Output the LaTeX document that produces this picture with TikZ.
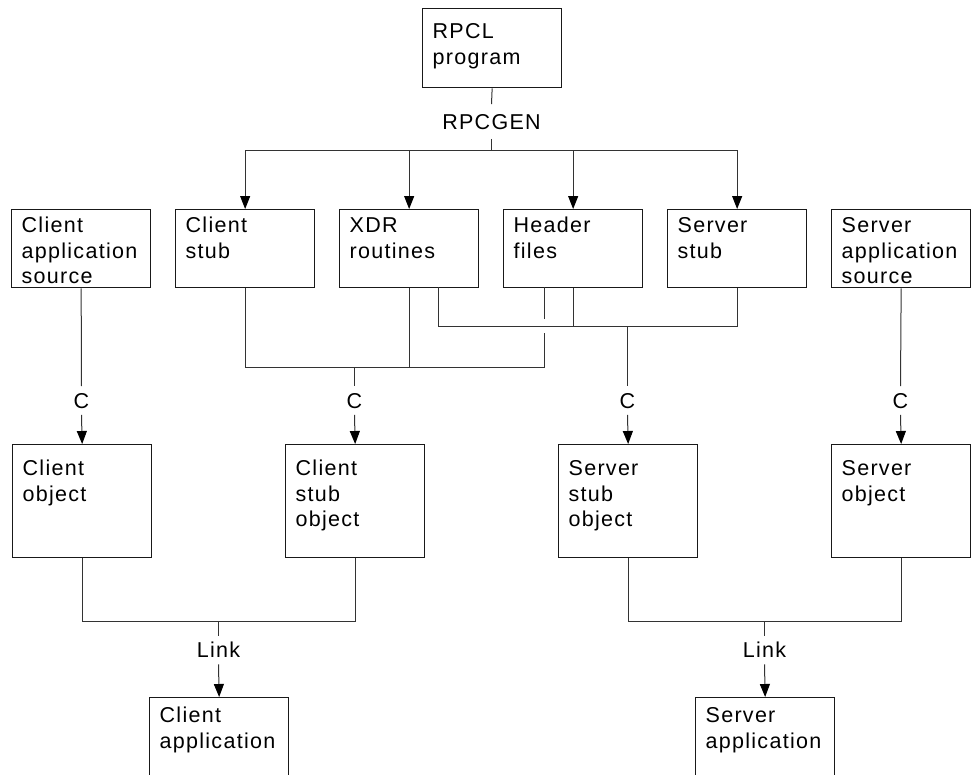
\documentclass[tikz,border=0pt]{standalone}
\usepackage{fontspec}
\setmainfont{Liberation Sans}[LetterSpace=6]
\usetikzlibrary{arrows.meta}
\begin{document}
\begin{tikzpicture}[x=1pt,y=-1pt,
  box/.style={draw=black!90, line width=1.3pt, anchor=north west, align=left,
    inner xsep=10pt, inner ysep=4pt, text width=119pt,
    font=\fontsize{21.5}{25.5}\selectfont},
  rA/.style={text height=26.3pt, text depth=44.7pt},
  rB/.style={text height=19.3pt, text depth=50.7pt},
  rC/.style={text height=27.3pt, text depth=77.7pt},
  rD/.style={text height=21.3pt, text depth=100pt},
  lbl/.style={font=\fontsize{21.5}{24}\selectfont, inner xsep=2pt, inner ysep=6.5pt,
    text height=15.4pt, text depth=0pt},
  conn/.style={draw=black!80, line width=1pt},
  arr/.style={conn, -{Triangle[length=13pt,width=10pt,fill=black,color=black]}}]
\useasboundingbox (0,0) rectangle (974,774);
\clip (0,0) rectangle (974,774);

% boxes
\node[box,rA] (rpcl) at (422,8) {RPCL\\program};
\node[box,rB] (csrc)  at (11,209)  {Client\\application\\source};
\node[box,rB] (cstub) at (175,209) {Client\\stub};
\node[box,rB] (xdr)   at (339,209) {XDR\\routines};
\node[box,rB] (hdr)   at (503,209) {Header\\files};
\node[box,rB] (sstub) at (667,209) {Server\\stub};
\node[box,rB] (ssrc)  at (831,209) {Server\\application\\source};
\node[box,rC] (cobj)     at (12,444)  {Client\\object};
\node[box,rC] (cstubobj) at (285,444) {Client\\stub\\object};
\node[box,rC] (sstubobj) at (558,444) {Server\\stub\\object};
\node[box,rC] (sobj)     at (831,444) {Server\\object};
\node[box,rD] (capp) at (149,697) {Client\\application};
\node[box,rD] (sapp) at (695,697) {Server\\application};

% labels
\node[lbl, inner ysep=9.5pt] (rpcgen) at (491.5,121.5) {RPCGEN};
\node[lbl] (c1) at (81.5,400.5)  {C};
\node[lbl] (c2) at (354.5,400.5) {C};
\node[lbl] (c3) at (627.5,400.5) {C};
\node[lbl] (c4) at (900.5,400.5) {C};
\node[lbl] (l1) at (218.5,650) {Link};
\node[lbl] (l2) at (764.5,650) {Link};

% helper coordinates
\coordinate (top) at (491.5,150);
\coordinate (up)  at (0,326);
\coordinate (low) at (0,367);
\coordinate (lk)  at (0,621);
\coordinate (hL)  at (544,287);
\coordinate (xR)  at (438,287);

% RPCGEN distribution
\draw[conn] (rpcl.south) -- (rpcgen.north);
\draw[conn] (rpcgen.south) -- (top);
\draw[conn] (cstub.north |- top) -- (sstub.north |- top);
\draw[arr] (cstub.north |- top) -- (cstub.north);
\draw[arr] (xdr.north |- top) -- (xdr.north);
\draw[arr] (hdr.north |- top) -- (hdr.north);
\draw[arr] (sstub.north |- top) -- (sstub.north);

% client stub compile group (lower line)
\draw[conn] (cstub.south) |- (hL |- low) -- (544,333);
\draw[conn] (544,319) -- (hL);
\draw[conn] (xdr.south) -- (xdr.south |- low);

% server stub compile group (upper line)
\draw[conn] (xR) |- (sstub.south |- up) -- (sstub.south);
\draw[conn] (hdr.south) -- (hdr.south |- up);

% C compilations
\draw[conn] (csrc.south) -- (c1.north);
\draw[arr] (c1.south) -- (cobj.north);
\draw[conn] (c2.north |- low) -- (c2.north);
\draw[arr] (c2.south) -- (cstubobj.north);
\draw[conn] (c3.north |- up) -- (c3.north);
\draw[arr] (c3.south) -- (sstubobj.north);
\draw[conn] (ssrc.south) -- (c4.north);
\draw[arr] (c4.south) -- (sobj.north);

% links
\draw[conn] (cobj.south) |- (cstubobj.south |- lk) -- (cstubobj.south);
\draw[conn] (l1.north |- lk) -- (l1.north);
\draw[arr] (l1.south) -- (capp.north);
\draw[conn] (sstubobj.south) |- (sobj.south |- lk) -- (sobj.south);
\draw[conn] (l2.north |- lk) -- (l2.north);
\draw[arr] (l2.south) -- (sapp.north);
\end{tikzpicture}
\end{document}
